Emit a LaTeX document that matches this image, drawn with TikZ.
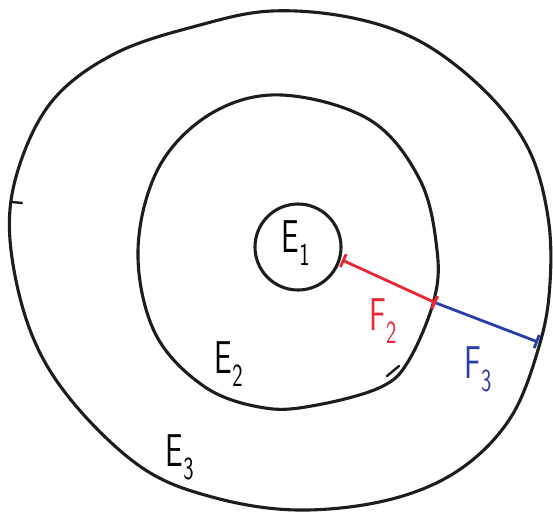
\documentclass[tikz,border=0pt]{standalone}
\usetikzlibrary{arrows.meta}
\definecolor{penred}{RGB}{236,38,48}
\definecolor{penblue}{RGB}{42,62,170}
\definecolor{penblack}{RGB}{30,28,28}
\tikzset{
  ink/.style={draw=penblack, line width=3.1pt, line join=round, line cap=round},
  lbl/.style={font=\sffamily\fontsize{46}{46}\selectfont, inner sep=0pt},
}
\newcommand{\hw}[2]{\scalebox{0.68}[1]{#1\textsubscript{#2}}}
\begin{document}
\begin{tikzpicture}[x=1pt,y=-1pt]
\useasboundingbox (0,0) rectangle (553,514);
% outer region boundary
\draw[ink] plot[smooth cycle, tension=0.6] coordinates {
 (272,11) (353,18) (423,43) (487,93) (529,150) (548,217) (550,283)
 (540,343) (511,417) (459,470) (388,500) (297,510) (212,497) (141,467)
 (71,400) (30,330) (10,240) (18,170) (53,100) (116,53) (200,25)};
\coordinate (tk1) at (12,202);
\coordinate (tk2) at (22,203);
\draw[ink, line width=2.4pt] (tk1) -- (tk2);
% middle boundary
\draw[ink] plot[smooth cycle, tension=0.6] coordinates {
 (282,95) (370,120) (420,180) (437,250) (434,300) (409,360) (381,387)
 (317,405) (265,408) (205,387) (155,333) (138,250) (159,167) (212,113)};
\coordinate (mk1) at (387,376);
\coordinate (mk2) at (399,366);
\draw[ink, line width=2.4pt] (mk1) -- (mk2);
% inner circle
\node[ink, circle, minimum size=86pt, inner sep=0pt] (e1) at (298,247) {};
\node[lbl] (l1) at (296,243) {\hw{E}{1}};
\node[lbl] (l2) at (229,364) {\hw{E}{2}};
\node[lbl] (l3) at (180,457) {\hw{E}{3}};
% radii
\coordinate (p1) at (342,260);
\coordinate (p2) at (436,303);
\coordinate (p3) at (538,342);
\draw[penblue, line width=2.8pt, -{Bar[width=14pt,line width=2.8pt]}] (p2) -- (p3);
\draw[penred, line width=2.8pt, {Bar[width=14pt,line width=2.8pt]}-{Bar[width=14pt,line width=3.2pt]}] (p1) -- (p2);
\node[lbl, text=penred] (f2) at (383,321) {\hw{F}{2}};
\node[lbl, text=penblue] (f3) at (478,369) {\hw{F}{3}};
\end{tikzpicture}
\end{document}
